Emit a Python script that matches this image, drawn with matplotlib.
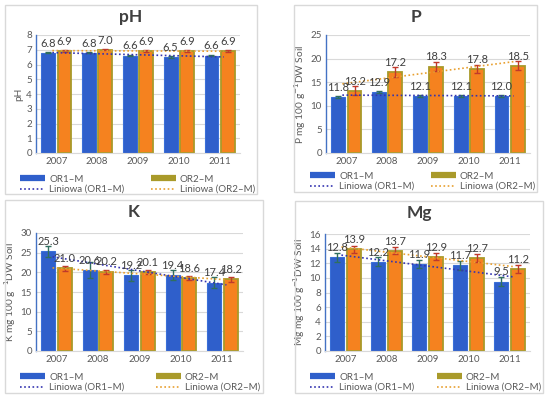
import numpy as np
import matplotlib
matplotlib.use("Agg")
import matplotlib.pyplot as plt
from matplotlib.lines import Line2D
from matplotlib.patches import Rectangle

plt.rcParams['font.family'] = ['Lato', 'DejaVu Sans']

years = ['2007', '2008', '2009', '2010', '2011']

ph_or1 = [6.8, 6.8, 6.6, 6.5, 6.6]
ph_or2 = [6.9, 7.0, 6.9, 6.9, 6.9]
ph_err1 = [0.05, 0.05, 0.05, 0.05, 0.05]
ph_err2 = [0.05, 0.05, 0.05, 0.05, 0.05]

p_or1 = [11.8, 12.9, 12.1, 12.1, 12.0]
p_or2 = [13.2, 17.2, 18.3, 17.8, 18.5]
p_err1 = [0.2, 0.2, 0.2, 0.2, 0.2]
p_err2 = [0.9, 1.0, 1.0, 0.8, 0.9]

k_or1 = [25.3, 20.6, 19.2, 19.4, 17.4]
k_or2 = [21.0, 20.2, 20.1, 18.6, 18.2]
k_err1 = [1.5, 2.0, 1.5, 1.3, 1.3]
k_err2 = [0.6, 0.5, 0.5, 0.5, 0.6]

mg_or1 = [12.8, 12.2, 11.9, 11.7, 9.5]
mg_or2 = [13.9, 13.7, 12.9, 12.7, 11.2]
mg_err1 = [0.6, 0.6, 0.6, 0.6, 0.6]
mg_err2 = [0.5, 0.5, 0.5, 0.5, 0.5]

series_names = ['OR1\u2013M', 'OR2\u2013M', 'Liniowa (OR1\u2013M)', 'Liniowa (OR2\u2013M)']

W, H = 550, 396
fig = plt.figure(figsize=(W / 100, H / 100), dpi=100)
fig.patch.set_facecolor('white')

BLUE = '#2F5FCB'
BLUE_EDGE = '#3A6FD8'
ORANGE = '#F5821F'
OLIVE = '#A99A2A'
TXT = '#404040'


def px_rect(l, t, r, b):
    return [l / W, 1 - b / H, (r - l) / W, (b - t) / H]


panels = [
    dict(title='pH', ylabel='pH', ymax=8, step=1, d1=ph_or1, d2=ph_or2, e1=ph_err1, e2=ph_err2,
         box=(5, 5, 257, 194), ax=(36, 35, 240, 153), leg=(20, 168, 255, 194)),
    dict(title='P', ylabel='P mg 100 g$^{-1}$DW Soil', ymax=25, step=5, d1=p_or1, d2=p_or2, e1=p_err1, e2=p_err2,
         box=(294, 5, 537, 192), ax=(326, 35, 530, 153), leg=(310, 166, 535, 191)),
    dict(title='K', ylabel='K mg 100 g$^{-1}$DW Soil', ymax=30, step=5, d1=k_or1, d2=k_or2, e1=k_err1, e2=k_err2,
         box=(5, 200, 263, 393), ax=(36, 233, 243, 351), leg=(20, 365, 260, 392)),
    dict(title='Mg', ylabel='Mg mg 100 g$^{-1}$DW Soil', ymax=16, step=2, d1=mg_or1, d2=mg_or2, e1=mg_err1, e2=mg_err2,
         box=(295, 201, 543, 393), ax=(325, 234, 530, 351), leg=(310, 365, 541, 392)),
]

for p in panels:
    l, t, r, b = p['box']
    fig.add_artist(Rectangle((l / W, 1 - b / H), (r - l) / W, (b - t) / H,
                             transform=fig.transFigure, fill=False, edgecolor='#D9D9D9', lw=1))
    fig.text((l + r) / 2 / W, 1 - (t + 12) / H, p['title'], ha='center', va='center',
             fontsize=12.5, fontweight='bold', color=TXT)

    ax = fig.add_axes(px_rect(*p['ax']))
    x = np.arange(len(years))
    bw = 0.34
    gap = 0.06
    x1 = x - (bw + gap) / 2
    x2 = x + (bw + gap) / 2
    ax.bar(x1, p['d1'], bw, color=BLUE, edgecolor=BLUE_EDGE, lw=0.8, zorder=2)
    ax.bar(x2, p['d2'], bw, color=ORANGE, edgecolor=OLIVE, lw=1.3, zorder=2)
    ax.errorbar(x1, p['d1'], yerr=p['e1'], fmt='none', ecolor='#2F6F5F', elinewidth=1, capsize=2.5, zorder=3)
    ax.errorbar(x2, p['d2'], yerr=p['e2'], fmt='none', ecolor='#C0392B', elinewidth=1, capsize=2.5, zorder=3)
    c1 = np.polyfit(x, p['d1'], 1)
    c2 = np.polyfit(x, p['d2'], 1)
    xt = np.array([-0.1, 4.1])
    ax.plot(xt, np.polyval(c1, xt), ls=(0, (1, 1.5)), color='#3434B0', lw=1.2, zorder=4)
    ax.plot(xt, np.polyval(c2, xt), ls=(0, (1, 1.5)), color='#E8A030', lw=1.2, zorder=4)
    for xi, v in zip(x1, p['d1']):
        ax.annotate(f'{v:.1f}', (xi, v), xytext=(0, 3), textcoords='offset points',
                    ha='center', va='bottom', fontsize=8, color=TXT, zorder=5)
    for xi, v in zip(x2, p['d2']):
        ax.annotate(f'{v:.1f}', (xi, v), xytext=(0, 3), textcoords='offset points',
                    ha='center', va='bottom', fontsize=8, color=TXT, zorder=5)

    ax.set_xlim(-0.5, 4.5)
    ax.set_ylim(0, p['ymax'])
    ax.set_yticks(np.arange(0, p['ymax'] + 0.01, p['step']))
    ax.set_xticks(x)
    ax.set_xticklabels(years)
    ax.tick_params(axis='both', length=0, labelsize=7, colors='#595959', pad=3)
    ax.grid(axis='y', color='#D9D9D9', lw=0.8, zorder=0)
    ax.set_axisbelow(True)
    for s in ['top', 'right']:
        ax.spines[s].set_visible(False)
    ax.spines['left'].set_color('#4472C4')
    ax.spines['left'].set_linewidth(1.0)
    ax.spines['bottom'].set_color('#D9D9D9')
    ax.set_ylabel(p['ylabel'], fontsize=7.3, color='#595959', labelpad=2)

    handles = [Line2D([], [], color=BLUE, lw=4.5, solid_capstyle='butt'),
               Line2D([], [], ls=(0, (1, 1.5)), color='#3434B0', lw=1.2),
               Line2D([], [], color=OLIVE, lw=4.5, solid_capstyle='butt'),
               Line2D([], [], ls=(0, (1, 1.5)), color='#E8A030', lw=1.2)]
    labels = [series_names[0], series_names[2], series_names[1], series_names[3]]
    ll, lt, lr, lb = p['leg']
    fig.legend(handles, labels, ncol=2, loc='lower left', mode='expand',
               bbox_to_anchor=(ll / W, 1 - lb / H, (lr - ll) / W, (lb - lt) / H),
               frameon=False, fontsize=7, handlelength=2.6, handletextpad=0.4,
               labelspacing=0.15, borderaxespad=0, borderpad=0, labelcolor='#595959')

fig.savefig('out.png', dpi=100, facecolor='white')
